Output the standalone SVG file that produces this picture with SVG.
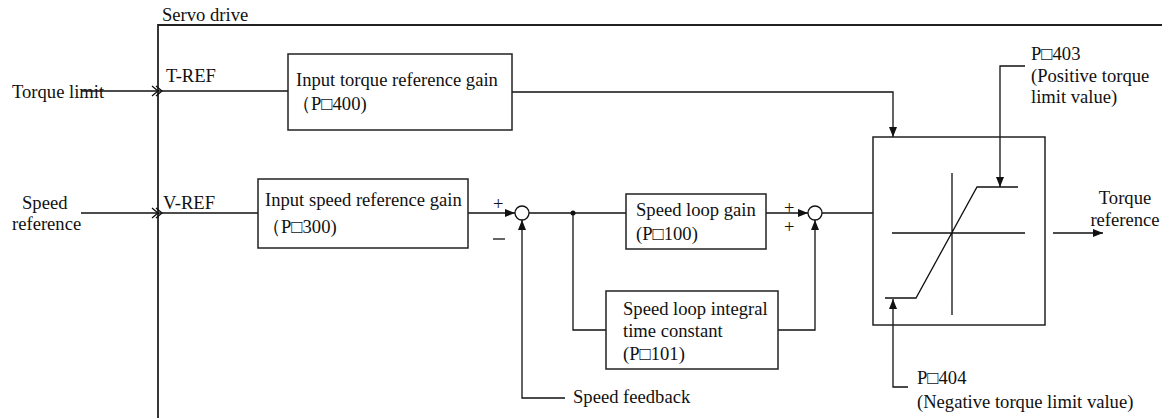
<svg xmlns="http://www.w3.org/2000/svg" width="1162" height="418" viewBox="0 0 1162 418">
<style>
text{font-family:"Liberation Serif","Times New Roman",serif;font-size:18.6px;fill:#111}
.ln{fill:none;stroke:#111;stroke-width:1.3}
.fr{fill:none;stroke:#222;stroke-width:1.8}
.bx{fill:none;stroke:#222;stroke-width:1.5}
.ar{fill:none;stroke:#111;stroke-width:1.3;marker-end:url(#ah)}
.sj{fill:#fff;stroke:#111;stroke-width:1.3}
</style>
<defs>
<marker id="ah" viewBox="0 0 10 8" refX="10" refY="4" markerWidth="10" markerHeight="8" markerUnits="userSpaceOnUse" orient="auto">
<path d="M0,0 L10,4 L0,8 z" fill="#111"/>
</marker>
</defs>
<g id="frame">
<path class="fr" d="M158,418 V25 H1162"/>
<text x="162" y="21">Servo drive</text>
</g>
<g id="connectors">
<path class="ln" d="M82,91 H288"/>
<path class="ln" d="M152,86 L158,91 L152,96 M156,86 L162,91 L156,96"/>
<path class="ln" d="M81,213 H258"/>
<path class="ln" d="M152,208 L158,213 L152,218 M156,208 L162,213 L156,218"/>
<path class="ar" d="M512,92 H893 V137"/>
<path class="ar" d="M468,213 H515"/>
<path class="ar" d="M565,398 H522 V220"/>
<path class="ln" d="M529,213 H626"/>
<circle cx="573" cy="213" r="2.5" fill="#111"/>
<path class="ln" d="M573,213 V330 H606"/>
<path class="ar" d="M766,213 H808"/>
<path class="ar" d="M778,330 H815 V220"/>
<path class="ln" d="M822,213 H873"/>
<path class="ar" d="M1053,233 H1103"/>
<path class="ar" d="M1025,66 H1000 V187"/>
<path class="ar" d="M908,387 H893 V299"/>
<text x="493" y="210" font-size="14">+</text>
<path class="ln" d="M493,239 H505"/>
<text x="784" y="214" font-size="14">+</text>
<text x="784" y="233" font-size="14">+</text>
</g>
<g id="t-ref">
<text x="12" y="98">Torque limit</text>
<text x="166" y="82">T-REF</text>
</g>
<g id="v-ref">
<text x="22" y="209">Speed</text>
<text x="12" y="230">reference</text>
<text x="163" y="209">V-REF</text>
</g>
<g id="torque-gain">
<rect class="bx" x="288" y="54" width="224" height="76"/>
<text x="296" y="86">Input torque reference gain</text>
<text x="292" y="110">（P□400)</text>
</g>
<g id="speed-gain">
<rect class="bx" x="258" y="179" width="210" height="69"/>
<text x="265" y="206">Input speed reference gain</text>
<text x="262" y="233">（P□300)</text>
</g>
<g id="sum1">
<circle class="sj" cx="522" cy="213" r="7"/>
</g>
<g id="loop-gain">
<rect class="bx" x="626" y="194" width="140" height="55"/>
<text x="636" y="216">Speed loop gain</text>
<text x="636" y="240">(P□100)</text>
</g>
<g id="integral">
<rect class="bx" x="606" y="291" width="172" height="78"/>
<text x="623" y="315">Speed loop integral</text>
<text x="623" y="337">time constant</text>
<text x="623" y="360">(P□101)</text>
</g>
<g id="sum2">
<circle class="sj" cx="815" cy="213" r="7"/>
</g>
<g id="feedback">
<text x="573" y="403">Speed feedback</text>
</g>
<g id="limiter">
<rect class="bx" x="873" y="137" width="172" height="188"/>
<path class="ln" d="M952,173 V315 M892,233 H1025 M885,298 H916 L977,187 H1018"/>
</g>
<g id="p403">
<text x="1031" y="60">P□403</text>
<text x="1031" y="82">(Positive torque</text>
<text x="1031" y="103">limit value)</text>
</g>
<g id="p404">
<text x="917" y="384">P□404</text>
<text x="917" y="408">(Negative torque limit value)</text>
</g>
<g id="torque-out">
<text x="1125" y="204" text-anchor="middle">Torque</text>
<text x="1125" y="226" text-anchor="middle">reference</text>
</g>
</svg>
